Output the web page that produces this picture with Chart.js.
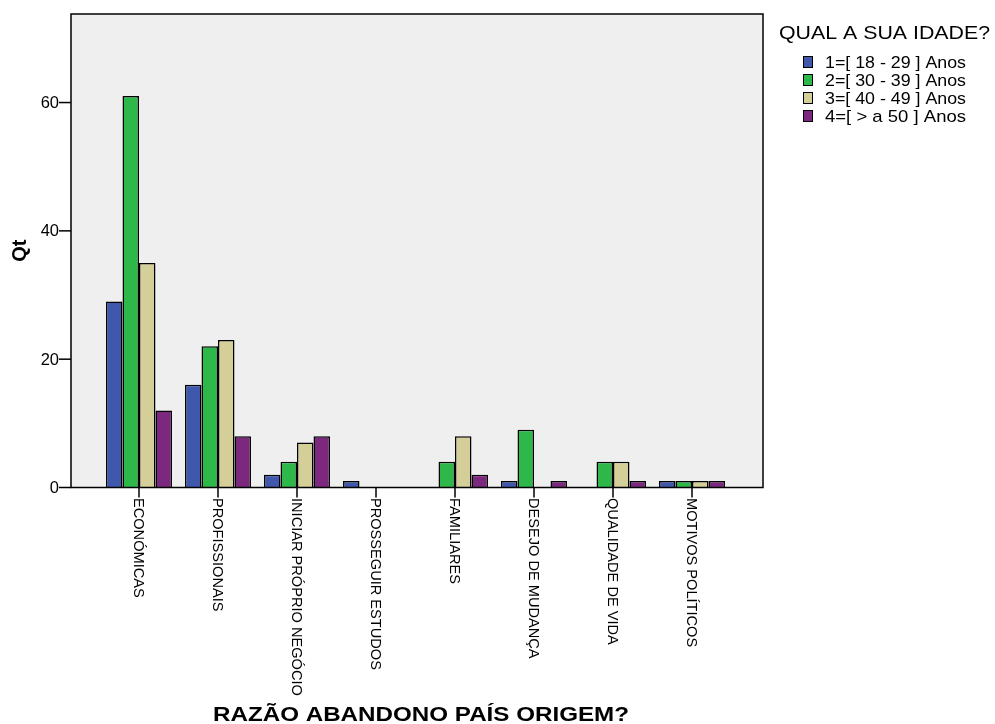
<!DOCTYPE html>
<html>
<head>
<meta charset="utf-8">
<script src="https://cdn.jsdelivr.net/npm/chart.js@4/dist/chart.umd.min.js"></script>
<style>
  html, body { margin: 0; padding: 0; background: #fff; }
  #wrap { width: 995px; height: 724px; }
</style>
</head>
<body>
<div id="wrap"><canvas id="chart" width="995" height="724"></canvas></div>
<script>
const categories = ['ECONÓMICAS', 'PROFISSIONAIS', 'INICIAR PRÓPRIO NEGÓCIO', 'PROSSEGUIR ESTUDOS', 'FAMILIARES', 'DESEJO DE MUDANÇA', 'QUALIDADE DE VIDA', 'MOTIVOS POLÍTICOS'];
const seriesLabels = ['1=[ 18 - 29 ] Anos', '2=[ 30 - 39 ] Anos', '3=[ 40 - 49 ] Anos', '4=[ > a 50 ] Anos'];
const age18to29 = [29, 16, 2, 1, 0, 1, 0, 1];
const age30to39 = [61, 22, 4, 0, 4, 9, 4, 1];
const age40to49 = [35, 23, 7, 0, 8, 0, 4, 1];
const age50plus = [12, 8, 8, 0, 2, 1, 1, 1];
const yTicks = [0, 20, 40, 60];
const yMax = 73.8;

const COLORS = ['#3F58AC', '#2FB84A', '#D4CF98', '#7C287E'];
const FONT = "'Liberation Sans', Arial, sans-serif";

// frame extends beyond the category area (SPSS style)
const FRAME_PAD_L = 28.5;
const FRAME_PAD_R = 31.5;

// draw text stretched horizontally to a given width
function fillWide(ctx, text, x, y, width) {
  const w = ctx.measureText(text).width;
  ctx.save();
  ctx.translate(x, y);
  ctx.scale(width / w, 1);
  ctx.fillText(text, 0, 0);
  ctx.restore();
}

const decor = {
  id: 'decor',
  beforeDatasetsDraw(chart) {
    const { ctx, chartArea: a } = chart;
    ctx.save();
    ctx.fillStyle = '#EFEFEF';
    ctx.fillRect(a.left - FRAME_PAD_L, a.top, a.right - a.left + FRAME_PAD_L + FRAME_PAD_R, a.bottom - a.top);
    ctx.restore();
  },
  afterDatasetsDraw(chart) {
    const { ctx, chartArea: a, scales: { x, y } } = chart;
    const fl = a.left - FRAME_PAD_L, fr = a.right + FRAME_PAD_R;
    ctx.save();
    ctx.strokeStyle = '#000';
    ctx.lineWidth = 1.5;
    ctx.strokeRect(fl, a.top, fr - fl, a.bottom - a.top);

    // y ticks + labels
    ctx.fillStyle = '#000';
    ctx.font = '16.5px ' + FONT;
    ctx.textAlign = 'right';
    ctx.textBaseline = 'middle';
    yTicks.forEach(v => {
      const py = y.getPixelForValue(v);
      ctx.beginPath();
      ctx.moveTo(fl - 12, py);
      ctx.lineTo(fl, py);
      ctx.stroke();
      ctx.fillText(String(v), fl - 12, py + 1);
    });

    // x ticks + rotated labels (reading top to bottom)
    ctx.font = '14.6px ' + FONT;
    categories.forEach((c, i) => {
      const px = x.getPixelForValue(i);
      ctx.beginPath();
      ctx.moveTo(px, a.bottom);
      ctx.lineTo(px, a.bottom + 10);
      ctx.stroke();
      ctx.save();
      ctx.translate(px, a.bottom + 10.5);
      ctx.rotate(Math.PI / 2);
      ctx.textAlign = 'left';
      ctx.textBaseline = 'middle';
      ctx.fillText(c, 0, 0.5);
      ctx.restore();
    });

    // axis titles
    ctx.font = 'bold 21px ' + FONT;
    ctx.textAlign = 'center';
    ctx.textBaseline = 'middle';
    fillWide(ctx, 'RAZÃO ABANDONO PAÍS ORIGEM?', (fl + fr) / 2 + 4, 715, 416);
    ctx.font = 'bold 20px ' + FONT;
    ctx.save();
    ctx.translate(20, (a.top + a.bottom) / 2);
    ctx.rotate(-Math.PI / 2);
    ctx.fillText('Qt', 0, 0);
    ctx.restore();

    // legend
    ctx.textAlign = 'left';
    ctx.font = '18px ' + FONT;
    fillWide(ctx, 'QUAL A SUA IDADE?', 779, 34, 211);
    ctx.font = '17px ' + FONT;
    ctx.lineWidth = 1;
    chart.data.datasets.forEach((ds, i) => {
      const cy = 62 + i * 18;
      ctx.fillStyle = ds.backgroundColor;
      ctx.fillRect(803, cy - 6, 10, 12);
      ctx.strokeRect(803.5, cy - 5.5, 9, 11);
      ctx.fillStyle = '#000';
      fillWide(ctx, ds.label, 825, cy + 1, 141);
    });
    ctx.restore();
  }
};

new Chart(document.getElementById('chart'), {
  type: 'bar',
  data: {
    labels: categories,
    datasets: [age18to29, age30to39, age40to49, age50plus].map((d, i) => ({
      label: seriesLabels[i],
      data: d,
      backgroundColor: COLORS[i],
      borderColor: '#000',
      borderWidth: 1.5,
      borderSkipped: 'start',
      barPercentage: 1,
      categoryPercentage: 0.835,
    })),
  },
  options: {
    responsive: false,
    animation: false,
    layout: { padding: { left: 99.5, right: 263.5, top: 14, bottom: 236.5 } },
    plugins: { legend: { display: false }, tooltip: { enabled: false } },
    scales: {
      x: { display: false, offset: true },
      y: { display: false, min: 0, max: yMax },
    },
  },
  plugins: [decor],
});
</script>
</body>
</html>
